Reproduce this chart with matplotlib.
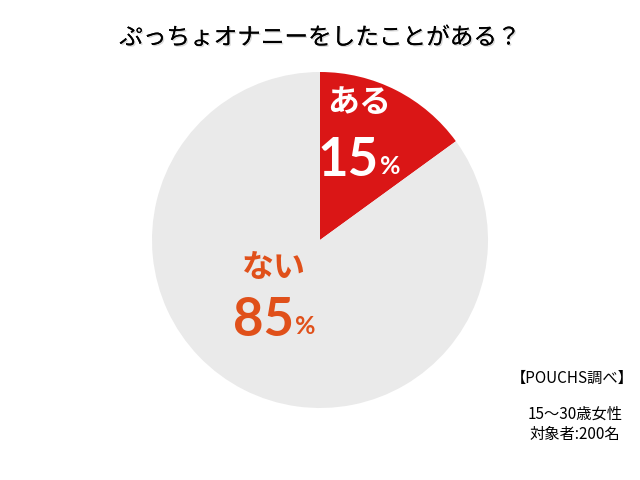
import matplotlib.pyplot as plt
import matplotlib.patheffects as pe

plt.rcParams['font.family'] = ['Noto Sans CJK JP', 'DejaVu Sans']

title = 'ぷっちょオナニーをしたことがある？'
labels = ['ある', 'ない']
values = [15, 85]
colors = ['#DA1616', '#EAEAEA']
text_colors = ['white', '#E0501A']
note_src = '【POUCHS調べ】'
note_lines = ['15〜30歳女性', '対象者:200名']

fig = plt.figure(figsize=(6.4, 4.8), dpi=100)
ax = fig.add_axes([0, 0, 1, 1])

ax.pie(values, colors=colors, startangle=90, counterclock=False,
       center=(320, 240), radius=168, frame=True,
       wedgeprops=dict(linewidth=0))
ax.set_xlim(0, 640)
ax.set_ylim(0, 480)
ax.set_aspect('equal')
ax.axis('off')

def Y(y):
    return 480 - y

# label positions (pixel coords from top)
lab_pos = [(359, 103), (274, 268)]
num_pos = [(379, 160), (294, 320)]
for i in range(len(values)):
    ax.text(lab_pos[i][0], Y(lab_pos[i][1]), labels[i], color=text_colors[i],
            fontsize=23, fontweight='bold', ha='center', va='center')
    ax.text(num_pos[i][0], Y(num_pos[i][1]), str(values[i]), color=text_colors[i],
            fontsize=38, fontweight='bold', ha='right', va='center', family='Lato')
    ax.text(num_pos[i][0] + 1, Y(num_pos[i][1] + 7), '%', color=text_colors[i],
            fontsize=18, fontweight='bold', ha='left', va='center', family='Lato')

ax.text(320, Y(38), title, fontsize=17, ha='center', va='center', color='black',
        path_effects=[pe.withSimplePatchShadow(offset=(1, -1), alpha=0.15), pe.Normal()])

ax.text(572, Y(378), note_src, fontsize=11, ha='center', va='center')
ax.text(575, Y(414), note_lines[0], fontsize=11, ha='center', va='center')
ax.text(575, Y(434), note_lines[1], fontsize=11, ha='center', va='center')

fig.savefig('out.png', dpi=100)
